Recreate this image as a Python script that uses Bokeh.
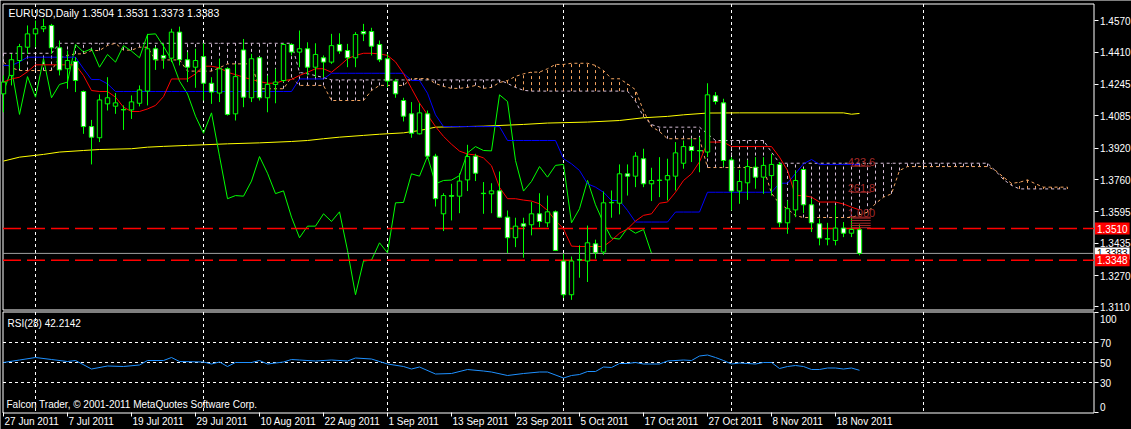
import pandas as pd
from bokeh.plotting import figure
from bokeh.models import (ColumnDataSource, Range1d, FixedTicker, Label, LinearAxis,
                          PrintfTickFormatter)
from bokeh.embed import file_html
from bokeh.resources import INLINE
from bokeh.core.properties import value

# ----------------------------------------------------------------- data
symbol = "EURUSD"
timeframe = "Daily"
first_date = "2011-06-27"

opens = [1.4197, 1.4291, 1.4367, 1.4435, 1.4503, 1.4529, 1.4546, 1.4432, 1.4325, 1.4362,
         1.4209, 1.4030, 1.3973, 1.4146, 1.4134, 1.4117, 1.4115, 1.4149, 1.4211, 1.4427,
         1.4393, 1.4379, 1.4512, 1.4371, 1.4333, 1.4387, 1.4251, 1.4201, 1.4325, 1.4095,
         1.4421, 1.4177, 1.4381, 1.4177, 1.4245, 1.4265, 1.4449, 1.4410, 1.4427, 1.4333,
         1.4381, 1.4359, 1.4449, 1.4418, 1.4381, 1.4515, 1.4515, 1.4449, 1.4376, 1.4262,
         1.4163, 1.4095, 1.3993, 1.4095, 1.3879, 1.3585, 1.3678, 1.3675, 1.3758, 1.3879,
         1.3690, 1.3687, 1.3702, 1.3568, 1.3463, 1.3534, 1.3529, 1.3585, 1.3539, 1.3595,
         1.3344, 1.3172, 1.3351, 1.3344, 1.3432, 1.3390, 1.3641, 1.3639, 1.3789, 1.3777,
         1.3866, 1.3738, 1.3755, 1.3758, 1.3777, 1.3843, 1.3928, 1.3908, 1.3900, 1.4187,
         1.4151, 1.3860, 1.3701, 1.3743, 1.3823, 1.3772, 1.3780, 1.3837, 1.3539, 1.3605,
         1.3811, 1.3631, 1.3534, 1.3458, 1.3449, 1.3512, 1.3486, 1.3504]
highs = [1.4291, 1.4401, 1.4452, 1.4546, 1.4571, 1.4580, 1.4554, 1.4469, 1.4418, 1.4384,
         1.4214, 1.4064, 1.4194, 1.4282, 1.4201, 1.4138, 1.4189, 1.4240, 1.4503, 1.4438,
         1.4452, 1.4529, 1.4540, 1.4410, 1.4427, 1.4455, 1.4282, 1.4376, 1.4333, 1.4350,
         1.4477, 1.4401, 1.4384, 1.4291, 1.4325, 1.4455, 1.4455, 1.4520, 1.4460, 1.4455,
         1.4393, 1.4503, 1.4506, 1.4452, 1.4512, 1.4554, 1.4534, 1.4469, 1.4401, 1.4273,
         1.4177, 1.4155, 1.4149, 1.4112, 1.3891, 1.3690, 1.3738, 1.3792, 1.3937, 1.3891,
         1.3747, 1.3741, 1.3801, 1.3602, 1.3565, 1.3565, 1.3645, 1.3690, 1.3678, 1.3602,
         1.3381, 1.3367, 1.3424, 1.3525, 1.3453, 1.3699, 1.3704, 1.3837, 1.3837, 1.3900,
         1.3917, 1.3820, 1.3874, 1.3866, 1.3951, 1.3959, 1.3968, 1.3976, 1.4251, 1.4206,
         1.4172, 1.3874, 1.3809, 1.3860, 1.3874, 1.3874, 1.3891, 1.3849, 1.3653, 1.3806,
         1.3815, 1.3662, 1.3560, 1.3539, 1.3627, 1.3543, 1.3568, 1.3531]
lows = [1.4103, 1.4240, 1.4325, 1.4401, 1.4435, 1.4512, 1.4401, 1.4291, 1.4223, 1.4206,
        1.3993, 1.3837, 1.3951, 1.4112, 1.4095, 1.4013, 1.4069, 1.4133, 1.4138, 1.4319,
        1.4325, 1.4359, 1.4342, 1.4257, 1.4228, 1.4163, 1.4146, 1.4155, 1.4086, 1.4061,
        1.4129, 1.4155, 1.4163, 1.4103, 1.4149, 1.4257, 1.4393, 1.4333, 1.4291, 1.4282,
        1.4282, 1.4350, 1.4401, 1.4333, 1.4333, 1.4466, 1.4393, 1.4359, 1.4231, 1.4177,
        1.4056, 1.3973, 1.3990, 1.3866, 1.3622, 1.3497, 1.3551, 1.3588, 1.3701, 1.3752,
        1.3585, 1.3588, 1.3565, 1.3384, 1.3415, 1.3361, 1.3475, 1.3517, 1.3517, 1.3395,
        1.3155, 1.3146, 1.3259, 1.3237, 1.3356, 1.3376, 1.3565, 1.3582, 1.3678, 1.3721,
        1.3721, 1.3650, 1.3670, 1.3653, 1.3704, 1.3815, 1.3849, 1.3797, 1.3874, 1.4143,
        1.3826, 1.3602, 1.3636, 1.3656, 1.3713, 1.3687, 1.3678, 1.3517, 1.3483, 1.3568,
        1.3588, 1.3492, 1.3424, 1.3424, 1.3424, 1.3466, 1.3466, 1.3373]
closes = [1.4257, 1.4371, 1.4438, 1.4503, 1.4529, 1.4540, 1.4432, 1.4319, 1.4367, 1.4265,
          1.4030, 1.3976, 1.4166, 1.4177, 1.4151, 1.4115, 1.4156, 1.4217, 1.4427, 1.4371,
          1.4379, 1.4512, 1.4371, 1.4333, 1.4367, 1.4251, 1.4206, 1.4325, 1.4092, 1.4285,
          1.4180, 1.4376, 1.4177, 1.4245, 1.4257, 1.4449, 1.4410, 1.4427, 1.4333, 1.4398,
          1.4359, 1.4443, 1.4415, 1.4381, 1.4500, 1.4503, 1.4440, 1.4371, 1.4262, 1.4197,
          1.4083, 1.3996, 1.4100, 1.3879, 1.3662, 1.3678, 1.3675, 1.3752, 1.3877, 1.3792,
          1.3688, 1.3702, 1.3568, 1.3463, 1.3522, 1.3522, 1.3585, 1.3546, 1.3595, 1.3398,
          1.3172, 1.3344, 1.3349, 1.3437, 1.3386, 1.3641, 1.3643, 1.3789, 1.3777, 1.3879,
          1.3738, 1.3755, 1.3757, 1.3780, 1.3896, 1.3928, 1.3908, 1.3906, 1.4192, 1.4158,
          1.3857, 1.3701, 1.3750, 1.3826, 1.3772, 1.3832, 1.3837, 1.3539, 1.3611, 1.3755,
          1.3631, 1.3539, 1.3461, 1.3456, 1.3512, 1.3486, 1.3505, 1.3383]

# Ichimoku lines (one value per bar)
tenkan = [1.4257, 1.4273, 1.4282, 1.4310, 1.4345, 1.4345, 1.4345, 1.4345, 1.4345, 1.4345,
          1.4290, 1.4214, 1.4209, 1.4209, 1.4180, 1.4129, 1.4107, 1.4107, 1.4120, 1.4138,
          1.4183, 1.4273, 1.4273, 1.4273, 1.4299, 1.4338, 1.4338, 1.4330, 1.4307, 1.4295,
          1.4282, 1.4270, 1.4260, 1.4251, 1.4251, 1.4265, 1.4270, 1.4291, 1.4307, 1.4325,
          1.4325, 1.4307, 1.4340, 1.4376, 1.4393, 1.4404, 1.4404, 1.4401, 1.4393, 1.4360,
          1.4300, 1.4225, 1.4150, 1.4090, 1.4030, 1.3980, 1.3940, 1.3905, 1.3890, 1.3885,
          1.3870, 1.3830, 1.3720, 1.3662, 1.3662, 1.3655, 1.3650, 1.3636, 1.3602, 1.3551,
          1.3508, 1.3420, 1.3418, 1.3418, 1.3418, 1.3418, 1.3449, 1.3486, 1.3508, 1.3548,
          1.3577, 1.3585, 1.3639, 1.3645, 1.3695, 1.3755, 1.3789, 1.3850, 1.3951, 1.3951,
          1.3951, 1.3928, 1.3928, 1.3928, 1.3928, 1.3928, 1.3928, 1.3874, 1.3806, 1.3678,
          1.3678, 1.3670, 1.3645, 1.3645, 1.3645, 1.3635, 1.3619, 1.3605]
kijun = [1.4342, 1.4342, 1.4360, 1.4384, 1.4384, 1.4384, 1.4384, 1.4384, 1.4384, 1.4384,
         1.4325, 1.4270, 1.4270, 1.4248, 1.4209, 1.4209, 1.4209, 1.4209, 1.4209, 1.4209,
         1.4209, 1.4209, 1.4209, 1.4209, 1.4209, 1.4209, 1.4209, 1.4209, 1.4209, 1.4209,
         1.4209, 1.4209, 1.4209, 1.4209, 1.4209, 1.4209, 1.4209, 1.4273, 1.4273, 1.4273,
         1.4273, 1.4302, 1.4302, 1.4302, 1.4302, 1.4302, 1.4302, 1.4302, 1.4302, 1.4302,
         1.4302, 1.4265, 1.4265, 1.4200, 1.4090, 1.4030, 1.4030, 1.4030, 1.4030, 1.4030,
         1.4030, 1.4030, 1.4030, 1.3959, 1.3959, 1.3959, 1.3959, 1.3959, 1.3959, 1.3959,
         1.3866, 1.3840, 1.3806, 1.3738, 1.3721, 1.3695, 1.3653, 1.3653, 1.3602, 1.3543,
         1.3543, 1.3543, 1.3543, 1.3543, 1.3594, 1.3594, 1.3594, 1.3594, 1.3695, 1.3695,
         1.3695, 1.3695, 1.3695, 1.3695, 1.3695, 1.3695, 1.3695, 1.3741, 1.3741, 1.3790,
         1.3840, 1.3862, 1.3837, 1.3837, 1.3837, 1.3837, 1.3837, 1.3837]
senkou_a = [1.4358, 1.4330, 1.4316, 1.4316, 1.4316, 1.4316, 1.4316, 1.4380, 1.4393, 1.4401,
            1.4401, 1.4418, 1.4418, 1.4444, 1.4455, 1.4420, 1.4420, 1.4435, 1.4435, 1.4370,
            1.4370, 1.4370, 1.4370, 1.4313, 1.4313, 1.4313, 1.4313, 1.4330, 1.4350, 1.4350,
            1.4350, 1.4350, 1.4223, 1.4223, 1.4223, 1.4223, 1.4282, 1.4240, 1.4240, 1.4240,
            1.4240, 1.4163, 1.4163, 1.4163, 1.4163, 1.4163, 1.4214, 1.4240, 1.4240, 1.4240,
            1.4240, 1.4275, 1.4275, 1.4275, 1.4250, 1.4235, 1.4225, 1.4225, 1.4230, 1.4240,
            1.4225, 1.4230, 1.4255, 1.4265, 1.4286, 1.4299, 1.4308, 1.4308, 1.4325, 1.4347,
            1.4347, 1.4353, 1.4353, 1.4353, 1.4342, 1.4316, 1.4274, 1.4274, 1.4248, 1.4218,
            1.4110, 1.4030, 1.4005, 1.3968, 1.3968, 1.3968, 1.3968, 1.3968, 1.3821, 1.3821,
            1.3821, 1.3821, 1.3821, 1.3821, 1.3821, 1.3821, 1.3690, 1.3636, 1.3610, 1.3576,
            1.3566, 1.3566, 1.3566, 1.3566, 1.3566, 1.3566, 1.3566, 1.3580, 1.3593, 1.3637,
            1.3670, 1.3687, 1.3806, 1.3826, 1.3826, 1.3826, 1.3826, 1.3826, 1.3826, 1.3826,
            1.3826, 1.3826, 1.3826, 1.3826, 1.3806, 1.3772, 1.3740, 1.3746, 1.3758, 1.3738,
            1.3721, 1.3721, 1.3721, 1.3721]
senkou_b = [1.4404, 1.4404, 1.4404, 1.4404, 1.4404, 1.4404, 1.4404, 1.4455, 1.4455, 1.4455,
            1.4455, 1.4455, 1.4455, 1.4455, 1.4455, 1.4455, 1.4455, 1.4455, 1.4455, 1.4455,
            1.4455, 1.4455, 1.4455, 1.4455, 1.4455, 1.4455, 1.4455, 1.4455, 1.4455, 1.4455,
            1.4455, 1.4455, 1.4455, 1.4455, 1.4455, 1.4455, 1.4455, 1.4306, 1.4300, 1.4290,
            1.4280, 1.4268, 1.4268, 1.4268, 1.4268, 1.4268, 1.4268, 1.4268, 1.4268, 1.4268,
            1.4268, 1.4268, 1.4268, 1.4268, 1.4268, 1.4268, 1.4268, 1.4268, 1.4268, 1.4268,
            1.4268, 1.4268, 1.4268, 1.4250, 1.4230, 1.4215, 1.4211, 1.4211, 1.4211, 1.4211,
            1.4211, 1.4211, 1.4211, 1.4211, 1.4211, 1.4211, 1.4211, 1.4211, 1.4211, 1.4160,
            1.4080, 1.4040, 1.4027, 1.4027, 1.4027, 1.4027, 1.4027, 1.4027, 1.3993, 1.3959,
            1.3959, 1.3959, 1.3959, 1.3959, 1.3959, 1.3959, 1.3900, 1.3843, 1.3843, 1.3843,
            1.3843, 1.3843, 1.3843, 1.3843, 1.3843, 1.3843, 1.3843, 1.3843, 1.3843, 1.3843,
            1.3843, 1.3843, 1.3843, 1.3843, 1.3843, 1.3843, 1.3843, 1.3843, 1.3843, 1.3843,
            1.3843, 1.3843, 1.3843, 1.3843, 1.3804, 1.3760, 1.3730, 1.3712, 1.3712, 1.3712,
            1.3712, 1.3712, 1.3712, 1.3712]
chikou_shift = 26

# yellow moving average (vertices)
ma_bars = [0, 2, 5, 7, 10, 12, 16, 18, 20, 23, 25, 28, 32, 36, 38, 40, 42, 45, 47, 50,
           52, 54, 60, 65, 68, 73, 77, 80, 83, 85, 88, 92, 105, 106, 107]
ma_vals = [1.3854, 1.3874, 1.3888, 1.3900, 1.3908, 1.3913, 1.3917, 1.3925, 1.3929, 1.3934,
           1.3937, 1.3942, 1.3947, 1.3954, 1.3959, 1.3968, 1.3976, 1.3985, 1.3991, 1.3998,
           1.4010, 1.4027, 1.4032, 1.4041, 1.4048, 1.4053, 1.4061, 1.4075, 1.4082, 1.4090,
           1.4099, 1.4100, 1.4100, 1.4093, 1.4097]

# RSI(28)
rsi_period = 28
rsi_bars = [0, 2, 4, 6, 8, 9, 11, 13, 15, 17, 18, 20, 21, 22, 25, 26, 27, 28, 29, 31,
            32, 33, 35, 36, 37, 39, 41, 43, 44, 46, 48, 50, 51, 52, 54, 56, 58, 60, 61, 63,
            65, 67, 68, 70, 71, 72, 73, 74, 75, 76, 77, 78, 79, 80, 82, 83, 85, 86, 87, 88,
            89, 90, 91, 92, 93, 94, 95, 96, 97, 98, 99, 100, 101, 102, 103, 104, 105, 106, 107]
rsi_vals = [50, 52.5, 55, 53, 51, 52, 43.5, 46.5, 46, 47.5, 52, 52, 55, 51, 50.5, 48.5, 50.5, 46, 50, 50,
            52, 48.5, 50.5, 53, 52.5, 51.5, 52.5, 51.5, 54.5, 53.5, 48.5, 46, 43.5, 45.5, 38.5, 39, 43, 41.5, 40.5, 37,
            39, 40.5, 40.5, 34.5, 37, 38, 41, 41, 45.5, 45, 49, 49, 50, 48.5, 48.5, 51.5, 52.5, 52, 56.5, 57.5,
            55, 52, 48.5, 49.5, 49, 48.5, 50, 50, 44, 46, 47, 46, 43, 43, 44.5, 44.5, 43.5, 44.5, 42.2142]

# horizontal levels, bid line and Fibonacci expansion
level_upper = 1.3510
level_lower = 1.3348
bid_price = 1.3383
fibo_start_bar = 105.9
fibo_end_bar = 108.4
fibo_levels = [1.3828, 1.3695, 1.3568]
fibo_names = ["423.6", "261.8", "1.000"]
fibo_minor_levels = [1.3563, 1.3551, 1.3537, 1.3525, 1.3514]

# axes
price_ticks = [1.4570, 1.4410, 1.4245, 1.4085, 1.3920, 1.3760, 1.3595, 1.3435, 1.3270, 1.3110]
rsi_min, rsi_max = 0, 100
rsi_ticks = [0, 30, 50, 70, 100]
rsi_levels = [30, 50, 70]
date_label_bars = [0, 8, 16, 24, 32, 40, 48, 56, 64, 72, 80, 88, 96, 104]
month_grid_bars = [4, 25, 48, 70, 91, 115]

title_text = f"{symbol},{timeframe}  {opens[-1]:.4f} {highs[-1]:.4f} {lows[-1]:.4f} {closes[-1]:.4f}"
rsi_text = f"RSI({rsi_period}) {rsi_vals[-1]:.4f}"
copyright_text = "Falcon Trader, \u00a9 2001-2011 MetaQuotes Software Corp."

# ----------------------------------------------------------------- style
BG = "black"
FG = "white"
CANDLE_LINE = "#00ff00"
BULL_BODY = "black"
BEAR_BODY = "white"
TENKAN_C = "#ff0000"
KIJUN_C = "#0000ff"
CHIKOU_C = "#00ff00"
SPAN_A_C = "#f4a460"
SPAN_B_C = "#d8bfd8"
MA_C = "#ffff00"
RSI_C = "#1e90ff"
LEVEL_C = "#ff0000"
BID_C = "#a0a0a0"
FIBO_C = "#a52a2a"
FONT = "Liberation Sans"
FS = "10px"
TITLE_FS = "10.5px"

# ----------------------------------------------------------------- geometry (px)
W, H = 1131, 429
X0_PX = 3.0            # canvas x of bar 0
BAR_PX = 8.0
LEVEL_Y_PX = 228.0     # canvas y of level_upper
PRICE_PX = 1960.0
RSI0_Y_PX = 412.0      # canvas y of RSI 0
RSI_PX = 1.0
LEFT_PX, RIGHT_PX = 2.5, 1093.5
MAIN_TOP_PX, MAIN_BOT_PX = 3.5, 309.5
RSI_TOP_PX, RSI_BOT_PX = 311.5, 412.5


def bar_at(px):
    return (px - X0_PX) / BAR_PX


def price_at(py):
    return level_upper + (LEVEL_Y_PX - py) / PRICE_PX


def rsi_at(py):
    return rsi_min + (RSI0_Y_PX - py) / RSI_PX


x_left, x_right = bar_at(LEFT_PX), bar_at(RIGHT_PX)
p_top, p_bot = price_at(MAIN_TOP_PX), price_at(MAIN_BOT_PX)
r_top, r_bot = rsi_at(RSI_TOP_PX), rsi_at(RSI_BOT_PX)

p = figure(width=W, height=H, x_range=Range1d(bar_at(0), bar_at(W)),
           y_range=Range1d(price_at(H), price_at(0)), output_backend="svg",
           toolbar_location=None, x_axis_location=None, y_axis_location=None,
           min_border_left=0, min_border_right=0, min_border_top=0, min_border_bottom=0,
           background_fill_color=BG, border_fill_color=BG, outline_line_color=None)
p.extra_y_ranges = {"rsi": Range1d(rsi_at(H), rsi_at(0))}
p.grid.visible = False


def style_axis(ax):
    ax.major_label_text_color = FG
    ax.major_label_text_font = FONT
    ax.major_label_text_font_size = FS
    ax.major_label_standoff = 2
    ax.major_tick_out = 4
    ax.major_tick_in = 0
    ax.major_tick_line_color = FG
    ax.minor_tick_line_color = None
    ax.axis_line_color = None


# price axis and RSI axis drawn on the right edge of the panels
pa = LinearAxis(fixed_location=x_right, ticker=FixedTicker(ticks=price_ticks),
                formatter=PrintfTickFormatter(format="%.4f"))
style_axis(pa)
p.add_layout(pa, "right")
ra = LinearAxis(y_range_name="rsi", fixed_location=x_right,
                ticker=FixedTicker(ticks=rsi_ticks), formatter=PrintfTickFormatter(format="%d"))
style_axis(ra)
# 0 and 100 are drawn below as labels kept inside the panel, as MetaTrader does
ra.major_label_overrides = {rsi_min: "", rsi_max: ""}
p.add_layout(ra, "right")
xa = LinearAxis(y_range_name="rsi", fixed_location=rsi_min,
                ticker=FixedTicker(ticks=date_label_bars))
style_axis(xa)
xa.major_label_overrides = {b: "" for b in date_label_bars}
p.add_layout(xa, "below")

# ---------------- panel frames and grids
frame_src = ColumnDataSource(dict(
    x0=[x_left, x_left, x_left, x_right], x1=[x_right, x_right, x_left, x_right],
    y0=[p_top, p_bot, p_top, p_top], y1=[p_top, p_bot, p_bot, p_bot]))
p.segment(x0="x0", y0="y0", x1="x1", y1="y1", line_color=FG, line_width=1, source=frame_src)
rframe_src = ColumnDataSource(dict(
    x0=[x_left, x_left, x_left, x_right], x1=[x_right, x_right, x_left, x_right],
    y0=[r_top, r_bot, r_top, r_top], y1=[r_top, r_bot, r_bot, r_bot]))
p.segment(x0="x0", y0="y0", x1="x1", y1="y1", line_color=FG, line_width=1,
          source=rframe_src, y_range_name="rsi")

p.segment(x0=month_grid_bars, y0=[p_top] * len(month_grid_bars),
          x1=month_grid_bars, y1=[p_bot] * len(month_grid_bars),
          line_color=FG, line_dash="3 3", line_width=1)
p.segment(x0=month_grid_bars, y0=[r_top] * len(month_grid_bars),
          x1=month_grid_bars, y1=[r_bot] * len(month_grid_bars),
          line_color=FG, line_dash="3 3", line_width=1, y_range_name="rsi")
p.segment(x0=[x_left] * len(rsi_levels), y0=rsi_levels,
          x1=[x_right] * len(rsi_levels), y1=rsi_levels,
          line_color=FG, line_dash="3 3", line_width=1, y_range_name="rsi")

# ---------------- cloud
n_span = len(senkou_a)
span_x = list(range(n_span))
hatch = ColumnDataSource(dict(
    x=span_x,
    lo=[min(a, b) for a, b in zip(senkou_a, senkou_b)],
    hi=[max(a, b) for a, b in zip(senkou_a, senkou_b)],
    c=[SPAN_A_C if a >= b else SPAN_B_C for a, b in zip(senkou_a, senkou_b)]))
p.segment(x0="x", y0="lo", x1="x", y1="hi", line_color="c", line_dash="3 3",
          line_width=1, source=hatch)
p.line(span_x, senkou_b, line_color=SPAN_B_C, line_dash="3 3", line_width=1)
p.line(span_x, senkou_a, line_color=SPAN_A_C, line_dash="3 3", line_width=1)

# ---------------- moving average, chikou, tenkan, kijun
p.line(ma_bars, ma_vals, line_color=MA_C, line_width=1)
n = len(closes)
bars = list(range(n))
p.line([i - chikou_shift for i in range(chikou_shift, n)], closes[chikou_shift:],
       line_color=CHIKOU_C, line_width=1)
p.line(bars, kijun, line_color=KIJUN_C, line_width=1)
p.line(bars, tenkan, line_color=TENKAN_C, line_width=1)

# ---------------- levels
p.segment(x0=[x_left], y0=[bid_price], x1=[x_right], y1=[bid_price],
          line_color=BID_C, line_width=1)
p.segment(x0=[x_left, x_left], y0=[level_upper, level_lower],
          x1=[x_right, x_right], y1=[level_upper, level_lower],
          line_color=LEVEL_C, line_dash="18 6", line_width=1.5)

# ---------------- candles
cs = ColumnDataSource(dict(
    x=bars, o=opens, h=highs, l=lows, c=closes,
    top=[max(o, c) for o, c in zip(opens, closes)],
    bot=[min(o, c) for o, c in zip(opens, closes)],
    fill=[BULL_BODY if c >= o else BEAR_BODY for o, c in zip(opens, closes)]))
p.segment(x0="x", y0="l", x1="x", y1="h", line_color=CANDLE_LINE, line_width=1, source=cs)
p.vbar(x="x", top="top", bottom="bot", width=0.55, fill_color="fill",
       line_color=CANDLE_LINE, line_width=1, source=cs)

# ---------------- Fibonacci expansion
fsrc = ColumnDataSource(dict(x0=[fibo_start_bar] * len(fibo_levels),
                             x1=[fibo_end_bar] * len(fibo_levels),
                             y=fibo_levels, t=fibo_names))
p.segment(x0="x0", y0="y", x1="x1", y1="y", line_color=FIBO_C, line_width=1, source=fsrc)
p.text(x="x0", y="y", text="t", text_color=FIBO_C, text_font=value(FONT),
       text_font_size="11px", text_baseline="bottom", text_align="left",
       x_offset=-3, source=fsrc)
msrc = ColumnDataSource(dict(x0=[fibo_start_bar] * len(fibo_minor_levels),
                             x1=[fibo_end_bar] * len(fibo_minor_levels),
                             y=fibo_minor_levels))
p.segment(x0="x0", y0="y", x1="x1", y1="y", line_color=FIBO_C, line_width=1, source=msrc)

# ---------------- RSI
p.line(rsi_bars, rsi_vals, line_color=RSI_C, line_width=1, y_range_name="rsi")

# ---------------- texts
for yv, bg, fg in ((bid_price, "white", "black"),
                   (level_upper, LEVEL_C, "white"),
                   (level_lower, LEVEL_C, "white")):
    p.add_layout(Label(x=x_right, y=yv, x_offset=1, text=f"{yv:.4f}",
                       text_font=FONT, text_font_size=FS, text_color=fg,
                       text_baseline="middle", text_align="left",
                       background_fill_color=bg, padding=2))

for yv, off in ((rsi_max, -6), (rsi_min, 6)):
    p.add_layout(Label(x=x_right, y=yv, y_range_name="rsi", x_offset=6, y_offset=off,
                       text=f"{yv}", text_font=FONT, text_font_size=FS, text_color=FG,
                       text_baseline="middle", text_align="left"))

dates = pd.bdate_range(first_date, periods=n)
for b in date_label_bars:
    d = dates[b]
    p.add_layout(Label(x=b, y=rsi_at(421), y_range_name="rsi", x_offset=1,
                       text=f"{d.day} {d.strftime('%b %Y')}",
                       text_font=FONT, text_font_size=FS, text_color=FG,
                       text_baseline="middle", text_align="left"))

p.add_layout(Label(x=bar_at(8), y=price_at(12), text=title_text, text_font=FONT,
                   text_font_size=TITLE_FS, text_color=FG, text_baseline="middle"))
p.add_layout(Label(x=bar_at(7), y=rsi_at(323), y_range_name="rsi", text=rsi_text,
                   text_font=FONT, text_font_size=FS, text_color=FG, text_baseline="middle"))
p.add_layout(Label(x=bar_at(6), y=rsi_at(404), y_range_name="rsi", text=copyright_text,
                   text_font=FONT, text_font_size=FS, text_color=FG, text_baseline="middle"))

open("out.html", "w").write(file_html(p, INLINE))
